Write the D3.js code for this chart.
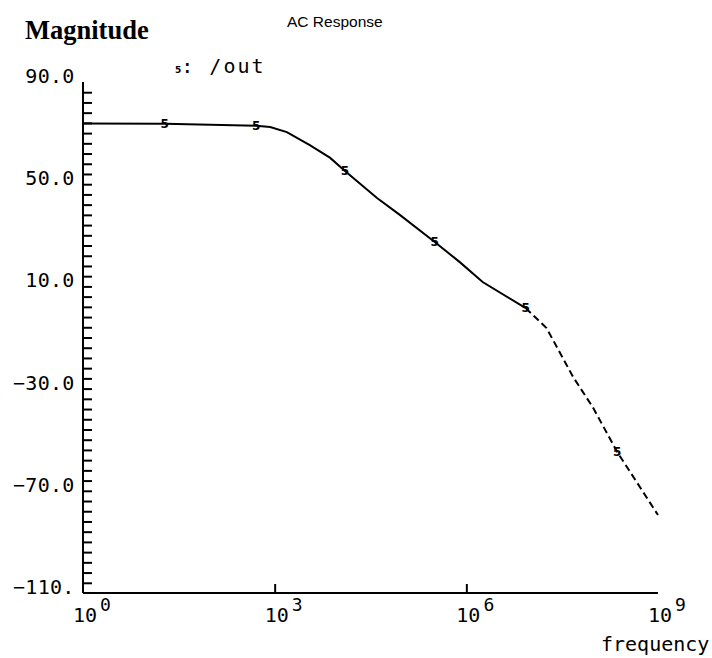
<!DOCTYPE html>
<html>
<head>
<meta charset="utf-8">
<script src="https://cdn.jsdelivr.net/npm/d3@7"></script>
<style>
  body { margin: 0; background: #fff; }
  svg { display: block; }
  .mono { font-family: "DejaVu Sans Mono", monospace; fill: #000; white-space: pre; }
</style>
</head>
<body>
<svg id="chart" width="712" height="658"></svg>
<script>
// AC response, output node /out
var freqs = [1, 19, 513, 850, 1550, 3550, 7400, 12600, 40000, 91000, 3.2e5, 7.9e5, 1.8e6, 8.5e6, 1.8e7, 4.7e7, 9.5e7, 2.3e8, 1e9];
var mags  = [73.8, 73.7, 72.9, 72.4, 70.4, 65.3, 60.3, 55.2, 44.6, 38.0, 27.4, 19.5, 11.7, 1.5, -6.3, -25.5, -37.2, -54.8, -79.5];
var markerFreqs = [19, 513, 12600, 3.2e5, 8.5e6, 2.3e8];
var dashFrom = 8.5e6;

var yTickValues = [90, 50, 10, -30, -70, -110];
var yTickLabels = [" 90.0", " 50.0", " 10.0", "\u221230.0", "\u221270.0", "\u2212110."];
var xTickExps = [0, 3, 6, 9];

var svg = d3.select("#chart");

var x = d3.scaleLog().domain([1, 1e9]).range([83, 658]);
var y = d3.scaleLinear().domain([-110, 90]).range([593, 82]);

var pts = freqs.map(function (f, i) { return {f: f, m: mags[i]}; });
var line = d3.line().x(function (d) { return x(d.f); }).y(function (d) { return y(d.m); });

// y axis: line + minor ticks every 4 units pointing inward
var yAxis = d3.axisRight(y)
    .tickValues(d3.range(-106, 90, 4))
    .tickSize(9)
    .tickFormat("");
var gy = svg.append("g").attr("transform", "translate(83,0)").call(yAxis);
gy.select(".domain").attr("d", "M0," + y(90) + "V" + y(-110)).attr("stroke-width", 2);
gy.selectAll(".tick line").attr("stroke-width", 2);

// y labels (fixed-pitch, left aligned)
svg.selectAll(".ylab").data(yTickValues).enter().append("text")
    .attr("class", "ylab mono")
    .attr("x", 13)
    .attr("y", function (d) { return y(d) + 1; })
    .attr("font-size", 20)
    .attr("letter-spacing", 0.3)
    .text(function (d, i) { return yTickLabels[i]; });

// x axis
var xAxis = d3.axisTop(x)
    .tickValues([1e3, 1e6])
    .tickSize(9)
    .tickFormat("");
var gx = svg.append("g").attr("transform", "translate(0,593)").call(xAxis);
gx.select(".domain").attr("d", "M" + x(1) + ",0H" + x(1e9)).attr("stroke-width", 2);
gx.selectAll(".tick line").attr("stroke-width", 2);

var xl = svg.selectAll(".xlab").data(xTickExps).enter().append("text")
    .attr("class", "xlab mono")
    .attr("x", function (d) { return x(Math.pow(10, d)) - 10; })
    .attr("y", 622)
    .attr("font-size", 20);
xl.append("tspan").text("10");
xl.append("tspan").attr("dy", -11).attr("dx", 3).attr("font-size", 18).text(function (d) { return d; });

// curve: solid then dashed
var solidPts = pts.filter(function (d) { return d.f <= dashFrom; });
var dashPts = pts.filter(function (d) { return d.f >= dashFrom; });
svg.append("path").attr("d", line(solidPts)).attr("fill", "none").attr("stroke", "#000").attr("stroke-width", 2);
svg.append("path").attr("d", line(dashPts)).attr("fill", "none").attr("stroke", "#000").attr("stroke-width", 2)
    .attr("stroke-dasharray", "7,4");

// markers
svg.selectAll(".mk").data(markerFreqs).enter().append("text")
    .attr("class", "mk")
    .attr("x", function (d) { return x(d); })
    .attr("y", function (d) { return y(mags[freqs.indexOf(d)]); })
    .attr("text-anchor", "middle")
    .attr("dominant-baseline", "central")
    .attr("font-family", "DejaVu Sans")
    .attr("font-weight", "bold")
    .attr("font-size", 12)
    .text("5");

// titles and legend
svg.append("text").attr("x", 25).attr("y", 39)
    .attr("font-family", "Liberation Serif").attr("font-weight", "bold").attr("font-size", 26.5)
    .text("Magnitude");
svg.append("text").attr("x", 287).attr("y", 27)
    .attr("font-family", "Liberation Sans").attr("font-size", 15.5)
    .text("AC Response");
var lg = svg.append("text").attr("class", "mono").attr("x", 175).attr("y", 73);
lg.append("tspan").attr("font-family", "DejaVu Sans").attr("font-weight", "bold").attr("font-size", 9).text("5");
lg.append("tspan").attr("font-size", 20).attr("letter-spacing", 2).text(": /out");
svg.append("text").attr("class", "mono").attr("x", 601).attr("y", 651)
    .attr("font-size", 20)
    .text("frequency");
</script>
</body>
</html>
